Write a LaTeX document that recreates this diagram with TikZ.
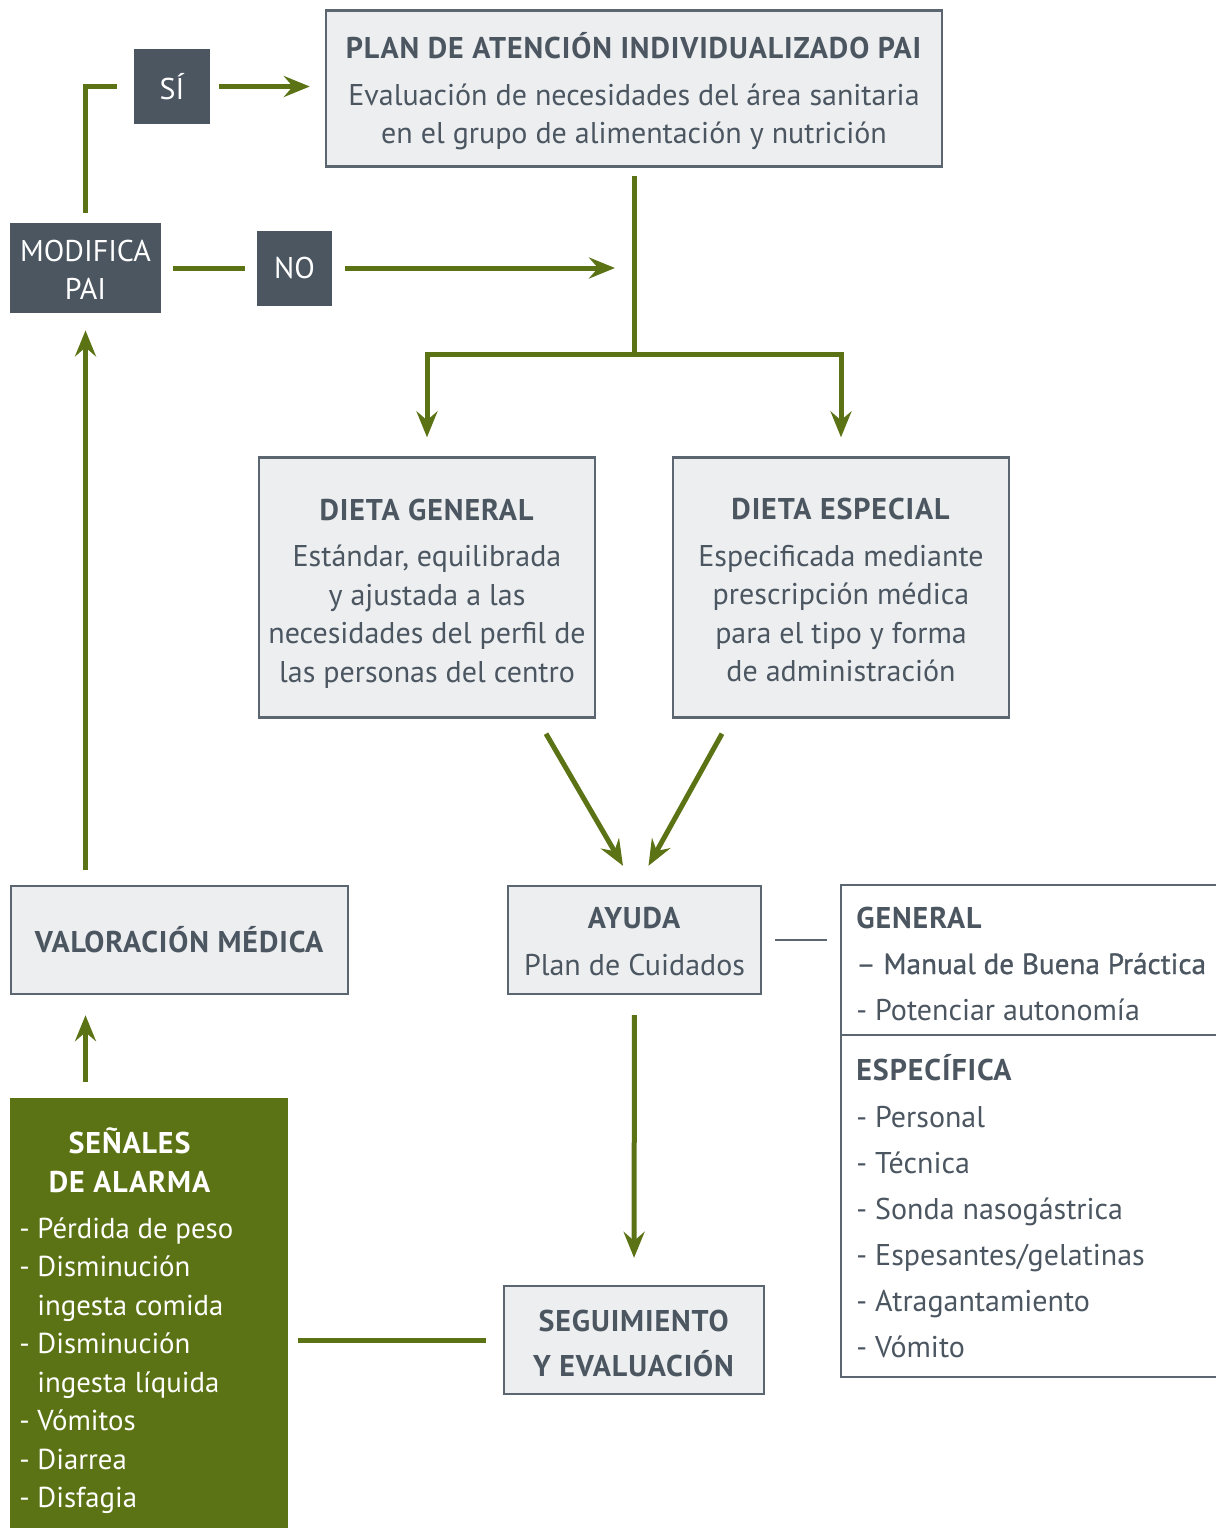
\documentclass[tikz,border=0pt]{standalone}
\usepackage{fontspec}
\setmainfont[BoldFeatures={LetterSpace=3}]{PT Sans}
\newfontfamily\medfont[FakeBold=1]{PT Sans}
\usetikzlibrary{arrows.meta,calc}
\definecolor{leaf}{HTML}{5B7314}
\definecolor{slate}{HTML}{4B5661}
\definecolor{boxfill}{HTML}{ECEEF0}
\definecolor{boxline}{HTML}{5B6670}
\definecolor{ink}{HTML}{4B5661}

\begin{document}
\begin{tikzpicture}[x=0.5pt,y=-0.5pt,
  >={Stealth[length=13pt,width=10.5pt,inset=4.5pt]},
  every node/.style={font=\fontsize{15pt}{19.25pt}\selectfont},
  box/.style={draw=boxline,line width=1.2pt,fill=boxfill,inner sep=0pt},
  boxtxt/.style={text=ink,align=center,inner sep=0pt},
  tag/.style={fill=slate,text=white,align=center,inner sep=0pt},
  link/.style={draw=leaf,line width=2.5pt},
  itemtxt/.style={anchor=base west,inner sep=0pt,text=ink},
  sig/.style={anchor=base west,inner sep=0pt,text=white,font=\fontsize{14.4pt}{19.25pt}\selectfont}]
  \path[use as bounding box] (0,0) rectangle (1216,1528);
  \clip (0,0) rectangle (1216,1528);

  \node[box,minimum width=308pt,minimum height=78pt] (pai) at (634,88.5) {};
  \node[boxtxt] (paitxt) at ([yshift=-1.5pt]pai.center)
    {\textbf{PLAN DE ATENCIÓN INDIVIDUALIZADO PAI}\\[4pt]Evaluación de necesidades del área sanitaria\\en el grupo de alimentación y nutrición};
  \node[tag,minimum width=38pt,minimum height=37.5pt] (si) at (172,86.5) {SÍ};
  \node[tag,minimum width=75.5pt,minimum height=45pt] (mod) at (85.5,268) {};
  \node[tag] (modtxt) at ([yshift=-1pt]mod.center) {MODIFICA\\PAI};
  \node[tag,minimum width=37.5pt,minimum height=37.5pt] (no) at (294.5,268) {NO};
  \node[box,minimum width=168pt,minimum height=130pt] (dgen) at (427,587.5) {};
  \node[boxtxt] (dgentxt) at ([yshift=-3pt]dgen.center)
    {\textbf{DIETA GENERAL}\\[4pt]Estándar, equilibrada\\y ajustada a las\\necesidades del perfil de\\las personas del centro};
  \node[box,minimum width=168pt,minimum height=130pt] (desp) at (841,587.5) {};
  \node[boxtxt] (desptxt) at ([yshift=-1.25pt]desp.center)
    {\textbf{DIETA ESPECIAL}\\[4pt]Especificada mediante\\prescripción médica\\para el tipo y forma\\de administración};
  \node[box,minimum width=126.5pt,minimum height=54pt] (ayuda) at (634.5,940) {};
  \node[boxtxt] (ayudatxt) at ([yshift=-0.75pt]ayuda.center) {\textbf{AYUDA}\\[4pt]Plan de Cuidados};
  \node[box,minimum width=168.5pt,minimum height=54pt] (val) at (179.5,940) {};
  \node[boxtxt] (valtxt) at (val.center) {\textbf{VALORACIÓN MÉDICA}};
  \node[box,minimum width=130pt,minimum height=54pt] (seg) at (634,1340) {};
  \node[boxtxt] (segtxt) at ([yshift=-1.75pt]seg.center) {\textbf{SEGUIMIENTO}\\[3pt]\textbf{Y EVALUACIÓN}};
  \node[fill=leaf,minimum width=139pt,minimum height=216pt,inner sep=0pt] (senales) at (149,1314) {};
  \node[draw=boxline,line width=1.2pt,minimum width=200pt,minimum height=246pt,inner sep=0pt] (panel) at (1041,1131) {};

  \node[anchor=base,inner sep=0pt,text=white] (sen1) at (130,1153) {\textbf{SEÑALES}};
  \node[anchor=base,inner sep=0pt,text=white] (sen2) at (130,1192) {\textbf{DE ALARMA}};
  \foreach \t/\xx/\yy [count=\i] in {- Pérdida de peso/19/1238,- Disminución/19/1276,ingesta comida/37/1315,
      - Disminución/19/1353,ingesta líquida/37/1392,- Vómitos/19/1430,- Diarrea/19/1469,- Disfagia/19/1507}
    \node[sig] (sig\i) at (\xx,\yy) {\t};

  \draw[boxline,line width=1pt] ([yshift=-75.5pt]panel.north west) -- ([yshift=-75.5pt]panel.north east);
  \node[itemtxt] (gen) at (856,928) {\textbf{GENERAL}};
  \node[itemtxt] (gen1) at (856,974) {\fontsize{14.6pt}{19.25pt}\medfont – Manual de Buena Práctica};
  \node[itemtxt] (gen2) at (856,1020) {- Potenciar autonomía};
  \node[itemtxt] (esp) at (856,1080) {\textbf{ESPECÍFICA}};
  \foreach \t [count=\i] in {Personal,Técnica,Sonda nasogástrica,Espesantes/gelatinas,Atragantamiento,Vómito}
    \node[itemtxt] (esp\i) at (856,1081+46*\i) {- \t};

  \coordinate (split) at (634,354);
  \coordinate (meet) at (634,268);
  \draw[link,shorten <=5pt,shorten >=8.5pt] (mod.north) |- (si.west);
  \draw[link,->,shorten <=4.5pt,shorten >=7.5pt] (si.east) -- (si.east -| pai.west);
  \draw[link,shorten <=6pt,shorten >=6pt] (mod.east) -- (no.west);
  \draw[link,->,shorten <=6.5pt,shorten >=9.5pt] (no.east) -- (meet);
  \draw[link,->,shorten <=4pt,shorten >=9.5pt] (pai.south) -- (split) -| (dgen.north);
  \draw[link,->,shorten >=9.5pt] (split) -| (desp.north);
  \draw[link,->] ([xshift=59.5pt,yshift=-7.5pt]dgen.south) -- ([xshift=-5.75pt,yshift=9.5pt]ayuda.north);
  \draw[link,->] ([xshift=-59.5pt,yshift=-7.5pt]desp.south) -- ([xshift=7pt,yshift=9.5pt]ayuda.north);
  \draw[link,->,shorten <=10pt,shorten >=13.5pt] (ayuda.south) -- (seg.north);
  \draw[link,->,shorten <=7.5pt,shorten >=8.5pt] (val.north -| mod.south) -- (mod.south);
  \draw[link,->,shorten <=8pt,shorten >=10pt] (senales.north -| mod.south) -- (val.south -| mod.south);
  \draw[link,shorten <=5pt,shorten >=8.5pt] (senales.east |- seg.west) -- (seg.west);
  \draw[boxline,line width=1pt,shorten <=6.5pt,shorten >=6.5pt] (ayuda.east) -- (ayuda.east -| panel.west);
\end{tikzpicture}
\end{document}
